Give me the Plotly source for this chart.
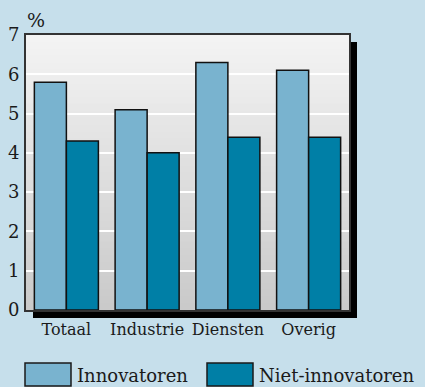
import plotly.graph_objects as go

categories = ["Totaal", "Industrie", "Diensten", "Overig"]
innovatoren = [5.8, 5.1, 6.3, 6.1]
niet_innovatoren = [4.3, 4.0, 4.4, 4.4]
y_ticks = [0, 1, 2, 3, 4, 5, 6, 7]
series_names = ["Innovatoren", "Niet-innovatoren"]
series_colors = ["#79b3cf", "#007fa6"]

W, H = 425, 387
L, T, R, B = 26, 35, 349, 310  # plot area in pixels
pw, ph = R - L, B - T

def px(x):
    return (x - L) / pw

def py(y):
    return (B - y) / ph

FONT = "DejaVu Serif"
BG = "#c6dfeb"

fig = go.Figure()
for name, vals, col in zip(series_names, [innovatoren, niet_innovatoren], series_colors):
    fig.add_trace(go.Bar(x=categories, y=vals, name=name, marker_color=col,
                         marker_line_color="#111", marker_line_width=1.5,
                         showlegend=False))

shapes = []
# drop shadow
shapes.append(dict(type="rect", xref="paper", yref="paper", layer="below",
                   x0=px(33), x1=px(357), y0=py(318), y1=py(42),
                   fillcolor="black", line_width=0))
# gradient background (nested rects to avoid seams)
n = 40
top_c, bot_c = (243, 243, 243), (202, 202, 202)
for i in range(n):
    f = i / (n - 1)
    c = tuple(round(top_c[k] + (bot_c[k] - top_c[k]) * f) for k in range(3))
    shapes.append(dict(type="rect", xref="paper", yref="paper", layer="below",
                       x0=0, x1=1, y0=0, y1=1 - i / n,
                       fillcolor="rgb(%d,%d,%d)" % c, line_width=0))
# legend boxes
legend_boxes = [(25, 71), (207, 253)]
for (x0, x1), col in zip(legend_boxes, series_colors):
    shapes.append(dict(type="rect", xref="paper", yref="paper",
                       x0=px(x0), x1=px(x1), y0=py(386), y1=py(363),
                       fillcolor=col, line=dict(color="#1a1a1a", width=1.5)))

annotations = [
    dict(text="%", xref="paper", yref="paper", x=px(25), y=py(20), xanchor="left",
         yanchor="middle", showarrow=False, font=dict(family=FONT, size=19, color="#1a1a1a")),
]
for name, xt in zip(series_names, [75, 257]):
    annotations.append(dict(text=name, xref="paper", yref="paper", x=px(xt), y=py(375),
                            xanchor="left", yanchor="middle", showarrow=False,
                            font=dict(family=FONT, size=18, color="#1a1a1a")))

fig.update_layout(
    width=W, height=H,
    margin=dict(l=L, r=W - R, t=T, b=H - B, pad=0, autoexpand=False),
    paper_bgcolor=BG, plot_bgcolor="#e6e6e6",
    barmode="group", bargap=0.207, bargroupgap=0,
    shapes=shapes, annotations=annotations,
    font=dict(family=FONT, color="#1a1a1a"),
)
fig.update_yaxes(range=[0, 7], tickvals=y_ticks, showgrid=True, gridcolor="white",
                 gridwidth=1.5, zeroline=False, showline=True, linecolor="#333",
                 linewidth=2, mirror=True, ticks="outside", ticklen=1, tickcolor=BG,
                 automargin=False,
                 tickfont=dict(family=FONT, size=18, color="#1a1a1a"))
fig.update_xaxes(showgrid=False, showline=True, linecolor="#333", linewidth=2, mirror=True,
                 ticks="outside", ticklen=4, tickcolor="rgba(0,0,0,0)", automargin=False,
                 tickfont=dict(family=FONT, size=16, color="#1a1a1a"))

fig.write_html("out.html")
